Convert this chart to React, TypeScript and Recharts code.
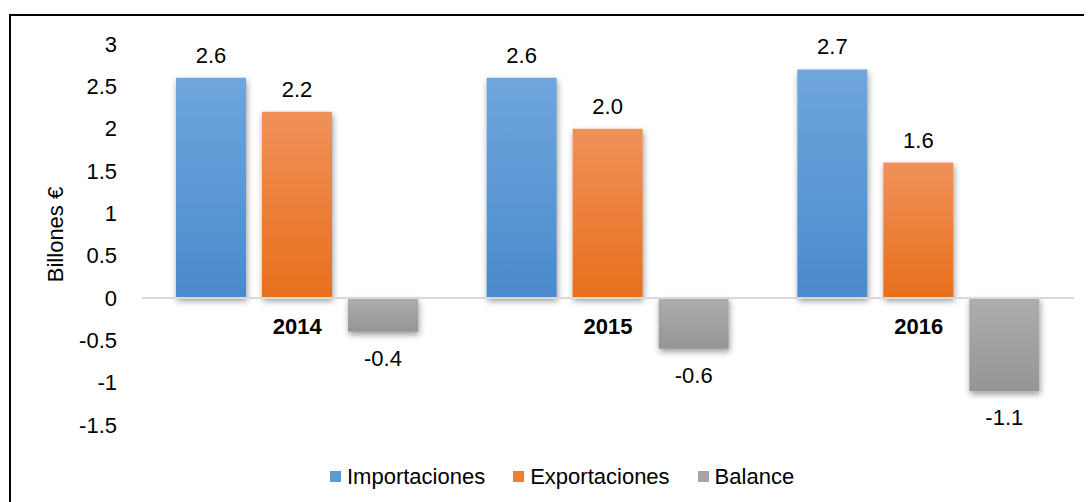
import React from 'react';
import { BarChart, Bar, XAxis, YAxis, ReferenceLine, ReferenceDot, Legend, LabelList, Rectangle } from 'recharts';

const years = ['2014', '2015', '2016'];
const importaciones = [2.6, 2.6, 2.7];
const exportaciones = [2.2, 2.0, 1.6];
const balance = [-0.4, -0.6, -1.1];
const yTicks = [-1.5, -1, -0.5, 0, 0.5, 1, 1.5, 2, 2.5, 3];
const seriesKeys = ['imp', 'exp', 'bal'];
const seriesNames: Record<string, string> = { imp: 'Importaciones', exp: 'Exportaciones', bal: 'Balance' };
const legendColors: Record<string, string> = { imp: '#5b9bd5', exp: '#ed7d31', bal: '#a5a5a5' };

const data = years.map((y, i) => ({ year: y, imp: importaciones[i], exp: exportaciones[i], bal: balance[i] }));

const FONT = '"Liberation Sans", Arial, Helvetica, sans-serif';

const ValueLabel = (props: any) => {
  const { x, y, width, height, value } = props;
  if (value === undefined || value === null) return null;
  const cx = Number(x) + Number(width) / 2;
  const top = Math.min(Number(y), Number(y) + Number(height));
  const bottom = Math.max(Number(y), Number(y) + Number(height));
  const txt = Number(value).toFixed(1);
  if (Number(value) < 0) {
    return (
      <text x={cx} y={bottom + 18} dy="0.72em" textAnchor="middle" fontSize={22} fill="#000" fontFamily={FONT}>
        {txt}
      </text>
    );
  }
  return (
    <text x={cx} y={top - 15} textAnchor="middle" fontSize={22} fill="#000" fontFamily={FONT}>
      {txt}
    </text>
  );
};

const ShadowBar = (props: any) => <Rectangle {...props} filter="url(#barShadow)" />;

const LegendContent = (props: any) => {
  const payload = [...(props.payload || [])].sort(
    (a: any, b: any) => seriesKeys.indexOf(a.dataKey) - seriesKeys.indexOf(b.dataKey)
  );
  return (
    <div style={{ height: 67, boxSizing: 'border-box', paddingTop: 36, paddingLeft: 322, display: 'flex', alignItems: 'center', fontFamily: FONT, fontSize: 22, lineHeight: '24px', color: '#000' }}>
      {payload.map((p: any) => (
        <div key={p.dataKey} style={{ display: 'flex', alignItems: 'center', marginRight: 28, height: 24 }}>
          <span style={{ display: 'inline-block', width: 11, height: 11, background: legendColors[p.dataKey], marginRight: 6 }} />
          <span style={{ whiteSpace: 'nowrap' }}>{p.value}</span>
        </div>
      ))}
    </div>
  );
};

const YLabel = (props: any) => {
  const vb = props.viewBox || {};
  const x = vb.x + 47;
  const y = vb.y + vb.height / 2;
  return (
    <text x={x} y={y} transform={`rotate(-90, ${x}, ${y})`} textAnchor="middle" dominantBaseline="central" fontSize={22} fill="#000" fontFamily={FONT}>
      Billones €
    </text>
  );
};

export default function App() {
  return (
    <div style={{ position: 'relative', width: 1084, height: 494, overflow: 'hidden', fontFamily: FONT }}>
      <div style={{ position: 'absolute', left: 1, top: 6, width: 1300, height: 700, border: '2px solid #000', boxSizing: 'border-box', pointerEvents: 'none' }} />
      <BarChart width={1084} height={494} data={data} margin={{ top: 36, right: 18, left: 0, bottom: 10 }} barSize={70} barGap={16}>
        <defs>
          <linearGradient id="gImp" x1="0" y1="0" x2="0" y2="1">
            <stop offset="0%" stopColor="#6fa6dd" />
            <stop offset="100%" stopColor="#4a8acc" />
          </linearGradient>
          <linearGradient id="gExp" x1="0" y1="0" x2="0" y2="1">
            <stop offset="0%" stopColor="#f0915a" />
            <stop offset="100%" stopColor="#e86f1c" />
          </linearGradient>
          <linearGradient id="gBal" x1="0" y1="0" x2="0" y2="1">
            <stop offset="0%" stopColor="#adadad" />
            <stop offset="100%" stopColor="#959595" />
          </linearGradient>
          <filter id="barShadow" x="-30%" y="-30%" width="160%" height="160%">
            <feDropShadow dx="1" dy="3" stdDeviation="3" floodColor="#000" floodOpacity="0.4" />
          </filter>
        </defs>
        <XAxis dataKey="year" hide />
        <YAxis
          width={134}
          domain={[-1.5, 3]}
          ticks={yTicks}
          axisLine={false}
          tickLine={false}
          tickSize={0}
          tickMargin={25}
          interval={0}
          tick={{ fontSize: 22, fill: '#000', fontFamily: FONT }}
          label={<YLabel />}
        />
        <ReferenceLine y={0} stroke="#d9d9d9" strokeWidth={2} />
        <Legend verticalAlign="bottom" content={<LegendContent />} />
        <Bar dataKey="imp" name={seriesNames.imp} fill="url(#gImp)" shape={<ShadowBar />} isAnimationActive={false}>
          <LabelList dataKey="imp" content={<ValueLabel />} />
        </Bar>
        <Bar dataKey="exp" name={seriesNames.exp} fill="url(#gExp)" shape={<ShadowBar />} isAnimationActive={false}>
          <LabelList dataKey="exp" content={<ValueLabel />} />
        </Bar>
        <Bar dataKey="bal" name={seriesNames.bal} fill="url(#gBal)" shape={<ShadowBar />} isAnimationActive={false}>
          <LabelList dataKey="bal" content={<ValueLabel />} />
        </Bar>
        {years.map((yr) => (
          <ReferenceDot
            key={yr}
            x={yr}
            y={0}
            r={0}
            fill="none"
            stroke="none"
            label={{ value: yr, position: 'bottom', offset: 20, fontSize: 22, fontWeight: 'bold', fill: '#000', fontFamily: FONT }}
          />
        ))}
      </BarChart>
    </div>
  );
}
